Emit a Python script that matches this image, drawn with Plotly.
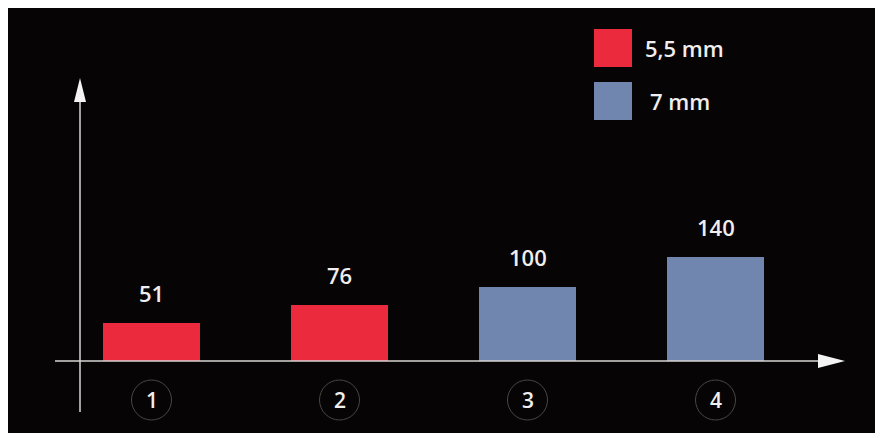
import plotly.graph_objects as go

categories = ["1", "2", "3", "4"]
series_names = ["5,5 mm", "7 mm"]
series_cats = [["1", "2"], ["3", "4"]]
series_values = [[51, 76], [100, 140]]
series_colors = ["#ec2a3e", "#7186ae"]

# page has an 8px body margin; work in reference pixel coords and shift
OFF = 8
W, H = 883 - OFF, 433 - OFF
cx0, step = 151.5 - OFF, 188.0   # px centre of first category, px per category
base_px, ppu = 361.0 - OFF, 0.74  # baseline px and px per unit

cat_pos = {c: i + 1 for i, c in enumerate(categories)}
xmin = 1 - cx0 / step
xmax = xmin + W / step
ymax = base_px / ppu
ymin = -(H - base_px) / ppu

fig = go.Figure()
for name, cats, vals, col in zip(series_names, series_cats, series_values, series_colors):
    fig.add_trace(go.Bar(
        x=[cat_pos[c] for c in cats], y=vals, name=name,
        marker=dict(color=col, line=dict(width=0)), width=97 / step,
        showlegend=False, hoverinfo="x+y"))

annotations = []
shapes = []
font = "Open Sans, Noto Sans, sans-serif"
txt = "#f0eeee"


def px_x(p):
    return (p - OFF) / W


def px_y(p):
    return 1 - (p - OFF) / H


for cats, vals in zip(series_cats, series_values):
    for c, v in zip(cats, vals):
        annotations.append(dict(x=cat_pos[c], y=v, xref="x", yref="y", text=str(v),
                                showarrow=False, yshift=30, yanchor="middle",
                                font=dict(color=txt, size=22, family=font, weight=600)))

# category labels with circles
r = 20
for c in categories:
    xc = cat_pos[c]
    annotations.append(dict(x=xc, y=px_y(400), xref="x", yref="paper", text=c,
                            showarrow=False, yanchor="middle",
                            font=dict(color=txt, size=21, family=font, weight=600)))
    shapes.append(dict(type="circle", xref="x", yref="paper",
                       x0=xc - r / step, x1=xc + r / step,
                       y0=px_y(420), y1=px_y(380),
                       line=dict(color="#4a4646", width=1)))

# axes lines with arrowheads
bp = base_px + OFF
shapes.append(dict(type="line", xref="paper", yref="paper",
                   x0=px_x(55), x1=px_x(822), y0=px_y(bp), y1=px_y(bp),
                   line=dict(color="#d8d4d4", width=1.5)))
shapes.append(dict(type="path", xref="paper", yref="paper",
                   path=f"M {px_x(818)} {px_y(bp-7)} L {px_x(845)} {px_y(bp)} L {px_x(818)} {px_y(bp+7)} Z",
                   fillcolor="#f4f4f4", line=dict(width=0)))
shapes.append(dict(type="line", xref="paper", yref="paper",
                   x0=px_x(80), x1=px_x(80), y0=px_y(412), y1=px_y(100),
                   line=dict(color="#d8d4d4", width=1.5)))
shapes.append(dict(type="path", xref="paper", yref="paper",
                   path=f"M {px_x(74)} {px_y(102)} L {px_x(80)} {px_y(78)} L {px_x(86)} {px_y(102)} Z",
                   fillcolor="#f4f4f4", line=dict(width=0)))

# legend
leg_y = [48, 101]
for name, col, yc in zip(series_names, series_colors, leg_y):
    shapes.append(dict(type="rect", xref="paper", yref="paper",
                       x0=px_x(594), x1=px_x(632), y0=px_y(yc + 19), y1=px_y(yc - 19),
                       fillcolor=col, line=dict(width=0)))
    annotations.append(dict(x=px_x(643 if name.startswith("5") else 648), y=px_y(yc),
                            xref="paper", yref="paper", text=name, showarrow=False,
                            xanchor="left", yanchor="middle",
                            font=dict(color=txt, size=22, family=font, weight=600)))

fig.update_layout(
    width=W, height=H, margin=dict(l=0, r=0, t=0, b=0),
    paper_bgcolor="#060404", plot_bgcolor="#060404",
    xaxis=dict(range=[xmin, xmax], visible=False, fixedrange=True),
    yaxis=dict(range=[ymin, ymax], visible=False, fixedrange=True),
    shapes=shapes, annotations=annotations, bargap=0,
)
fig.write_html("out.html")
